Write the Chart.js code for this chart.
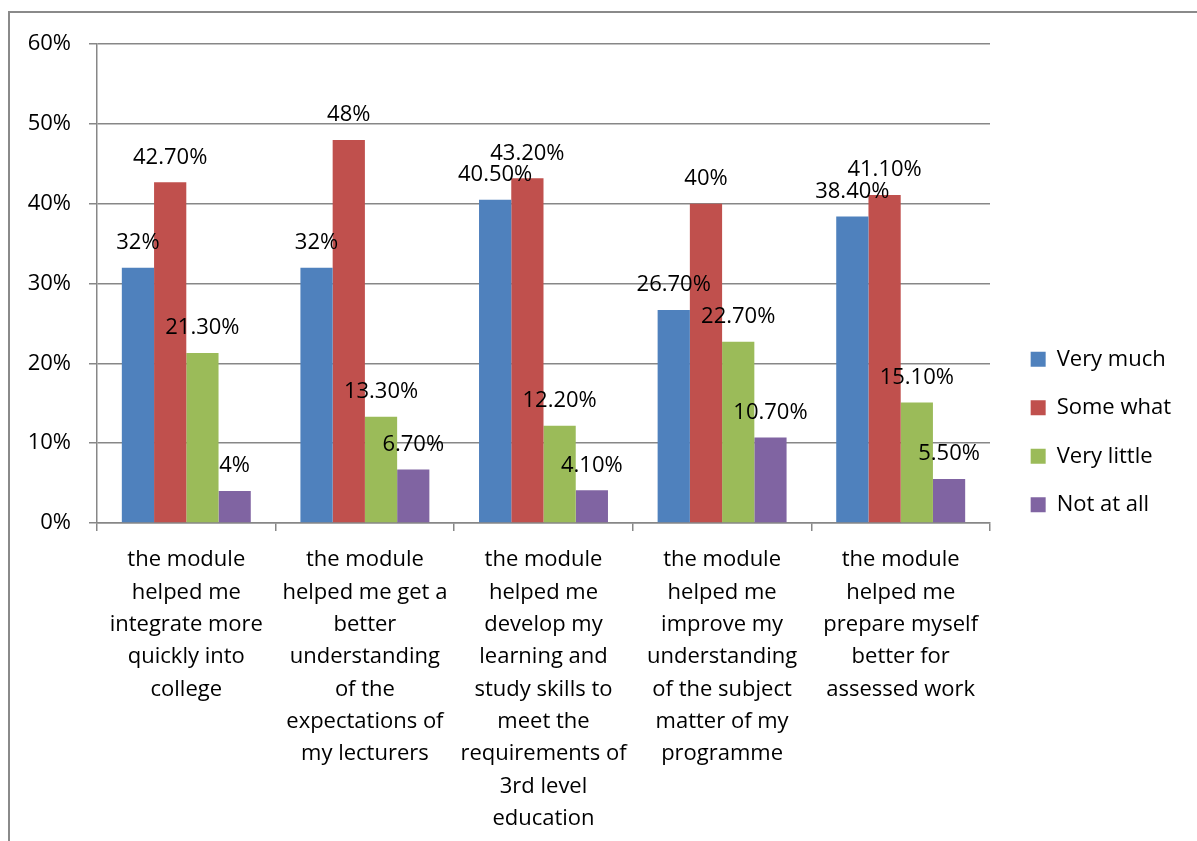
<!DOCTYPE html>
<html><head><meta charset="utf-8">
<script src="https://cdn.jsdelivr.net/npm/chart.js@4.4.1/dist/chart.umd.min.js"></script>
<style>
html,body{margin:0;padding:0;background:#fff;overflow:hidden;width:1197px;height:841px;}
#frame{position:absolute;left:8px;top:11px;width:1300px;height:900px;border-left:2px solid #8a8a8a;border-top:2px solid #8a8a8a;}
#c{position:absolute;left:10px;top:13px;}
</style></head><body>
<div id="frame"></div>
<canvas id="c"></canvas>
<script>
// ---- data ----
const categories = [
  ['the module', 'helped me', 'integrate more', 'quickly into', 'college'],
  ['the module', 'helped me get a', 'better', 'understanding', 'of the', 'expectations of', 'my lecturers'],
  ['the module', 'helped me', 'develop my', 'learning and', 'study skills to', 'meet the', 'requirements of', '3rd level', 'education'],
  ['the module', 'helped me', 'improve my', 'understanding', 'of the subject', 'matter of my', 'programme'],
  ['the module', 'helped me', 'prepare myself', 'better for', 'assessed work']
];
const seriesNames = ['Very much', 'Some what', 'Very little', 'Not at all'];
const veryMuch   = [32, 32, 40.5, 26.7, 38.4];
const someWhat   = [42.7, 48, 43.2, 40, 41.1];
const veryLittle = [21.3, 13.3, 12.2, 22.7, 15.1];
const notAtAll   = [4, 6.7, 4.1, 10.7, 5.5];
const yTickValues = [0, 10, 20, 30, 40, 50, 60];
const seriesColors = ['#4F81BD', '#C0504D', '#9BBB59', '#8064A2'];

// ---- layout constants ----
const FONT = 'Open Sans';
const FS = 22;
const GRID = '#878787';
const LEG_PAD = 26.5;
const H = 838;
const mctx = document.createElement('canvas').getContext('2d');
mctx.font = FS + 'px "' + FONT + '"';
const maxText = Math.max(...seriesNames.map(s => mctx.measureText(s).width));
const legendW = LEG_PAD + 15 + FS / 2 + maxText + 10;
const W = Math.ceil(994 + legendW);
const rightGap = W - legendW - 980;

const canvas = document.getElementById('c');
canvas.width = W; canvas.height = H;
canvas.style.width = W + 'px'; canvas.style.height = H + 'px';

function fmt(v) {
  return (Number.isInteger(v) ? String(v) : v.toFixed(2)) + '%';
}

const valueLabels = {
  id: 'valueLabels',
  afterDatasetsDraw(chart) {
    const ctx = chart.ctx;
    ctx.save();
    ctx.font = FS + 'px "' + FONT + '"';
    ctx.fillStyle = '#000';
    ctx.textAlign = 'center';
    ctx.textBaseline = 'middle';
    chart.data.datasets.forEach((ds, di) => {
      const meta = chart.getDatasetMeta(di);
      meta.data.forEach((bar, i) => {
        ctx.fillText(fmt(ds.data[i]), bar.x, bar.y - 25);
      });
    });
    ctx.restore();
  }
};

const seriesData = [veryMuch, someWhat, veryLittle, notAtAll];

new Chart(canvas, {
  type: 'bar',
  data: {
    labels: categories,
    datasets: seriesNames.map((name, i) => ({
      label: name,
      data: seriesData[i],
      backgroundColor: seriesColors[i],
      borderWidth: 0,
      xAxisID: 'x',
      yAxisID: 'y',
      categoryPercentage: 0.722,
      barPercentage: 1.0
    }))
  },
  options: {
    responsive: false,
    animation: false,
    devicePixelRatio: 1,
    layout: { padding: 0 },
    plugins: {
      legend: {
        position: 'right',
        align: 'center',
        labels: {
          font: { family: FONT, size: FS },
          color: '#000',
          boxWidth: 15,
          boxHeight: 15,
          padding: LEG_PAD
        }
      },
      tooltip: { enabled: false },
      title: { display: false }
    },
    scales: {
      x: {
        type: 'category',
        position: 'bottom',
        grid: { display: true, drawOnChartArea: false, drawTicks: true, tickLength: 8, color: GRID, lineWidth: 1.5, offset: true },
        border: { display: true, color: GRID, width: 1.5 },
        ticks: {
          autoSkip: false, maxRotation: 0, minRotation: 0,
          font: { family: FONT, size: FS, lineHeight: 1.47 },
          color: '#000',
          padding: 13
        },
        afterFit(scale) { scale.height = H - 510; }
      },
      y: {
        type: 'linear',
        position: 'left',
        min: 0, max: 60,
        afterBuildTicks(scale) { scale.ticks = yTickValues.map(v => ({ value: v })); },
        grid: { display: true, drawTicks: true, tickLength: 8, color: GRID, lineWidth: 1.5 },
        border: { display: true, color: GRID, width: 1.5 },
        ticks: {
          font: { family: FONT, size: FS },
          color: '#000',
          padding: 18,
          callback: v => v + '%'
        },
        afterFit(scale) { scale.width = 87; }
      },
      xTop: {
        type: 'linear',
        axis: 'x',
        position: 'top',
        display: true,
        grid: { display: false, drawTicks: false },
        border: { display: false },
        ticks: { display: false },
        afterFit(scale) { scale.height = 28; }
      },
      yRight: {
        type: 'linear',
        axis: 'y',
        position: 'right',
        display: true,
        grid: { display: false, drawTicks: false },
        border: { display: false },
        ticks: { display: false },
        afterFit(scale) { scale.width = rightGap; }
      }
    }
  },
  plugins: [valueLabels]
});
</script>
</body></html>
